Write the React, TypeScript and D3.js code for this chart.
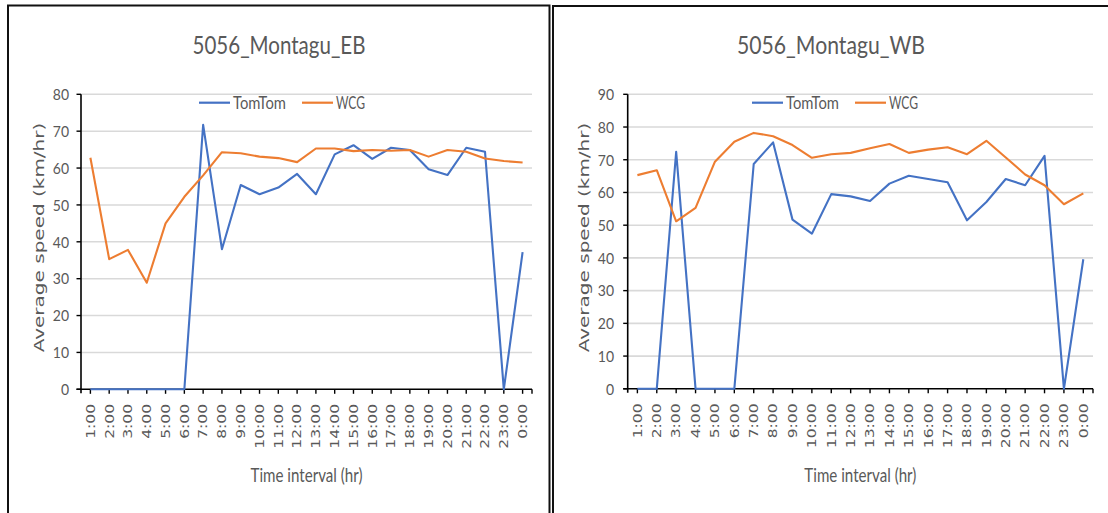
import React from "react";
import * as d3 from "d3";

const hours = [
  "1:00", "2:00", "3:00", "4:00", "5:00", "6:00", "7:00", "8:00", "9:00", "10:00", "11:00", "12:00",
  "13:00", "14:00", "15:00", "16:00", "17:00", "18:00", "19:00", "20:00", "21:00", "22:00", "23:00", "0:00",
];

const ebTomTom = [0, 0, 0, 0, 0, 0, 71.7, 38.0, 55.4, 52.9, 54.7, 58.4, 52.9, 63.7, 66.2, 62.5, 65.5, 64.9, 59.7, 58.1, 65.5, 64.4, 0, 37.2];
const ebWCG = [62.8, 35.3, 37.8, 28.9, 45.0, 52.2, 58.0, 64.3, 64.0, 63.1, 62.7, 61.6, 65.3, 65.3, 64.6, 64.9, 64.7, 64.9, 63.1, 64.9, 64.4, 62.6, 61.9, 61.5];

const wbTomTom = [0, 0, 72.4, 0, 0, 0, 68.7, 75.3, 51.7, 47.4, 59.5, 58.8, 57.4, 62.7, 65.1, 64.1, 63.1, 51.5, 57.1, 64.1, 62.2, 71.2, 0, 39.6];
const wbWCG = [65.3, 66.8, 51.2, 55.3, 69.4, 75.5, 78.2, 77.2, 74.5, 70.6, 71.7, 72.1, 73.5, 74.8, 72.1, 73.1, 73.8, 71.7, 75.8, 70.7, 65.5, 62.2, 56.4, 59.7];

const ebTicks = [0, 10, 20, 30, 40, 50, 60, 70, 80];
const wbTicks = [0, 10, 20, 30, 40, 50, 60, 70, 80, 90];

const seriesNames = ["TomTom", "WCG"];
const seriesColors = ["#4472C4", "#ED7D31"];

const CAL = "Lato, 'Open Sans', sans-serif";
const DV = "'DejaVu Sans', Verdana, sans-serif";
const GRAY = "#595959";

type PanelProps = {
  title: string;
  tomtom: number[];
  wcg: number[];
  ticks: number[];
  panelX: number;
  panelY: number;
  panelW: number;
  plotL: number;
  plotR: number;
  plotT: number;
  plotB: number;
  titleCx: number;
  titleLen: number;
  legendCx: number;
  yTitleX: number;
  yLabelX: number;
};

function HText(p: {
  x: number; y: number; text: string; size: number; sy: number; len?: number;
  anchor?: string; family?: string; fill?: string;
}) {
  return (
    <text
      transform={`translate(${p.x},${p.y}) scale(1,${p.sy})`}
      fontFamily={p.family ?? CAL}
      fontSize={p.size}
      fill={p.fill ?? GRAY}
      textAnchor={p.anchor ?? "start"}
      textLength={p.len}
      lengthAdjust={p.len ? "spacingAndGlyphs" : undefined}
    >
      {p.text}
    </text>
  );
}

function Panel(props: PanelProps) {
  const x = d3.scaleBand<string>().domain(hours).range([props.plotL, props.plotR]).paddingInner(0).paddingOuter(0);
  const yMax = props.ticks[props.ticks.length - 1];
  const y = d3.scaleLinear().domain([0, yMax]).range([props.plotB, props.plotT]);
  const cx = (h: string) => (x(h) as number) + x.bandwidth() / 2;

  const line = d3
    .line<number>()
    .x((_, i) => cx(hours[i]))
    .y((v) => y(v));

  const series = [props.tomtom, props.wcg];
  const lc = props.legendCx;

  return (
    <g>
      <rect
        x={props.panelX}
        y={props.panelY}
        width={props.panelW}
        height={600}
        fill="none"
        stroke="#111"
        strokeWidth={2}
      />
      <HText x={props.titleCx} y={54} text={props.title} size={22} sy={1.11} len={props.titleLen} anchor="middle" />

      {props.ticks.filter((t) => t > 0).map((t) => (
        <line key={"g" + t} x1={props.plotL} x2={props.plotR} y1={y(t)} y2={y(t)} stroke="#d9d9d9" strokeWidth={1.6} />
      ))}

      <line x1={props.plotL} x2={props.plotL} y1={props.plotT} y2={props.plotB + 4} stroke="#000" strokeWidth={1.6} />
      {props.ticks.map((t) => (
        <g key={"yt" + t}>
          <line x1={props.plotL - 4.5} x2={props.plotL} y1={y(t)} y2={y(t)} stroke="#000" strokeWidth={1.4} />
          <HText x={props.yLabelX} y={y(t) + 5.8} text={String(t)} size={14} sy={1.1} anchor="end" />
        </g>
      ))}

      <line x1={props.plotL - 4.5} x2={props.plotR} y1={props.plotB} y2={props.plotB} stroke="#000" strokeWidth={1.6} />
      {hours.map((h) => (
        <line key={"xt" + h} x1={cx(h)} x2={cx(h)} y1={props.plotB} y2={props.plotB + 4.5} stroke="#000" strokeWidth={1.4} />
      ))}
      <line x1={props.plotR} x2={props.plotR} y1={props.plotB} y2={props.plotB + 4.5} stroke="#000" strokeWidth={1.4} />

      {hours.map((h) => (
        <text
          key={"xl" + h}
          transform={`translate(${cx(h)},${props.plotB + 14.5}) scale(1,1.3) rotate(-90)`}
          fontFamily={DV}
          fontSize={12}
          fill={GRAY}
          textAnchor="end"
          dy="0.36em"
        >
          {h}
        </text>
      ))}

      {series.map((s, i) => (
        <path
          key={"s" + i}
          d={line(s) ?? ""}
          fill="none"
          stroke={seriesColors[i]}
          strokeWidth={2.1}
          strokeLinejoin="round"
        />
      ))}

      <line x1={lc - 83} x2={lc - 52} y1={102.7} y2={102.7} stroke={seriesColors[0]} strokeWidth={2.2} />
      <HText x={lc - 49} y={108.8} text={seriesNames[0]} size={15.5} sy={1.14} len={53} />
      <line x1={lc + 20} x2={lc + 51} y1={102.7} y2={102.7} stroke={seriesColors[1]} strokeWidth={2.2} />
      <HText x={lc + 54} y={108.8} text={seriesNames[1]} size={15.5} sy={1.14} len={29} />

      <text
        transform={`translate(${props.yTitleX},237.5) scale(1,1.38) rotate(-90)`}
        fontFamily={DV}
        fontSize={14.5}
        fill={GRAY}
        textAnchor="middle"
      >
        Average speed (km/hr)
      </text>

      <HText
        x={(props.plotL + props.plotR) / 2}
        y={482}
        text="Time interval (hr)"
        size={16.5}
        sy={1.2}
        len={112}
        anchor="middle"
      />
    </g>
  );
}

export default function App() {
  return (
    <div style={{ position: "absolute", left: 0, top: 0 }}>
      <svg width={1108} height={513} style={{ display: "block", background: "#fff" }}>
        <rect x={0} y={0} width={1108} height={513} fill="#fff" />
        <Panel
          title="5056_Montagu_EB"
          tomtom={ebTomTom}
          wcg={ebWCG}
          ticks={ebTicks}
          panelX={8}
          panelY={5.5}
          panelW={541.5}
          plotL={81}
          plotR={532}
          plotT={94.3}
          plotB={389.3}
          titleCx={279}
          titleLen={173}
          legendCx={282}
          yTitleX={44}
          yLabelX={69}
        />
        <Panel
          title="5056_Montagu_WB"
          tomtom={wbTomTom}
          wcg={wbWCG}
          ticks={wbTicks}
          panelX={553}
          panelY={6}
          panelW={600}
          plotL={627.7}
          plotR={1093}
          plotT={94.3}
          plotB={388.8}
          titleCx={831}
          titleLen={188}
          legendCx={835}
          yTitleX={589}
          yLabelX={614}
        />
      </svg>
    </div>
  );
}
